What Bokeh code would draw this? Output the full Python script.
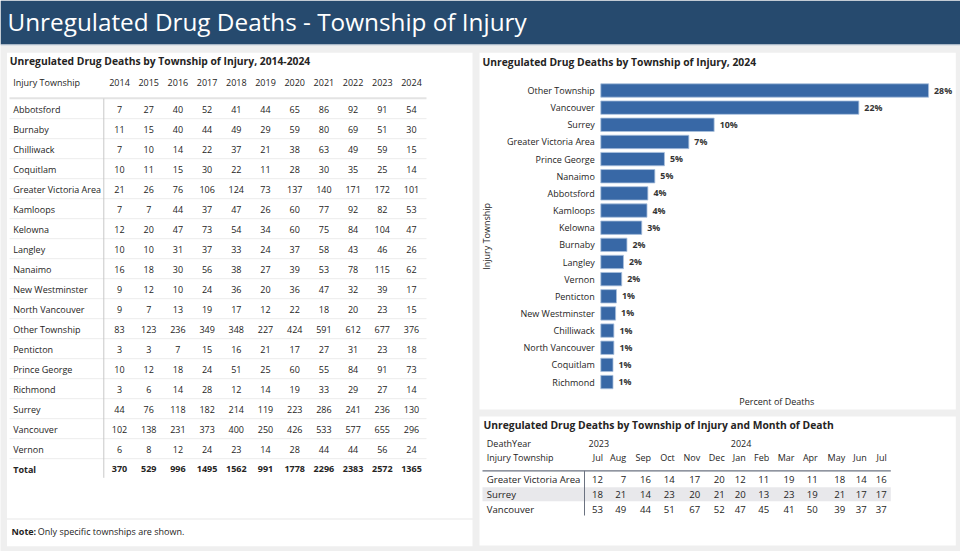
from bokeh.plotting import figure
from bokeh.models import Range1d
from bokeh.core.properties import value
from bokeh.embed import file_html
from bokeh.resources import INLINE

# ---------------- data ----------------
years = ["2014", "2015", "2016", "2017", "2018", "2019", "2020", "2021", "2022", "2023", "2024"]
townships = ["Abbotsford", "Burnaby", "Chilliwack", "Coquitlam", "Greater Victoria Area",
             "Kamloops", "Kelowna", "Langley", "Nanaimo", "New Westminster",
             "North Vancouver", "Other Township", "Penticton", "Prince George",
             "Richmond", "Surrey", "Vancouver", "Vernon"]
abbotsford = [7, 27, 40, 52, 41, 44, 65, 86, 92, 91, 54]
burnaby = [11, 15, 40, 44, 49, 29, 59, 80, 69, 51, 30]
chilliwack = [7, 10, 14, 22, 37, 21, 38, 63, 49, 59, 15]
coquitlam = [10, 11, 15, 30, 22, 11, 28, 30, 35, 25, 14]
greater_victoria = [21, 26, 76, 106, 124, 73, 137, 140, 171, 172, 101]
kamloops = [7, 7, 44, 37, 47, 26, 60, 77, 92, 82, 53]
kelowna = [12, 20, 47, 73, 54, 34, 60, 75, 84, 104, 47]
langley = [10, 10, 31, 37, 33, 24, 37, 58, 43, 46, 26]
nanaimo = [16, 18, 30, 56, 38, 27, 39, 53, 78, 115, 62]
new_westminster = [9, 12, 10, 24, 36, 20, 36, 47, 32, 39, 17]
north_vancouver = [9, 7, 13, 19, 17, 12, 22, 18, 20, 23, 15]
other_township = [83, 123, 236, 349, 348, 227, 424, 591, 612, 677, 376]
penticton = [3, 3, 7, 15, 16, 21, 17, 27, 31, 23, 18]
prince_george = [10, 12, 18, 24, 51, 25, 60, 55, 84, 91, 73]
richmond = [3, 6, 14, 28, 12, 14, 19, 33, 29, 27, 14]
surrey = [44, 76, 118, 182, 214, 119, 223, 286, 241, 236, 130]
vancouver = [102, 138, 231, 373, 400, 250, 426, 533, 577, 655, 296]
vernon = [6, 8, 12, 24, 23, 14, 28, 44, 44, 56, 24]
totals = [370, 529, 996, 1495, 1562, 991, 1778, 2296, 2383, 2572, 1365]
year_rows = [abbotsford, burnaby, chilliwack, coquitlam, greater_victoria, kamloops,
             kelowna, langley, nanaimo, new_westminster, north_vancouver, other_township,
             penticton, prince_george, richmond, surrey, vancouver, vernon]

month_years = ["2023", "2024"]
months = ["Jul", "Aug", "Sep", "Oct", "Nov", "Dec", "Jan", "Feb", "Mar", "Apr", "May", "Jun", "Jul"]
month_townships = ["Greater Victoria Area", "Surrey", "Vancouver"]
gva_monthly = [12, 7, 16, 14, 17, 20, 12, 11, 19, 11, 18, 14, 16]
surrey_monthly = [18, 21, 14, 23, 20, 21, 20, 13, 23, 19, 21, 17, 17]
vancouver_monthly = [53, 49, 44, 51, 67, 52, 47, 45, 41, 50, 39, 37, 37]
monthly_rows = [gva_monthly, surrey_monthly, vancouver_monthly]

# ---------------- styles / layout ----------------
FONT = value("Open Sans")
TXT = "#252423"
HEADER_BG = "#264a6e"
PAGE_BG = "#efefef"
BAR = "#3868a6"
W, H = 960, 551

p = figure(width=W, height=H, x_range=Range1d(0, W), y_range=Range1d(H, 0),
           x_axis_type=None, y_axis_type=None, toolbar_location=None,
           output_backend="svg", min_border=0, outline_line_color=None,
           background_fill_color=PAGE_BG, border_fill_color=PAGE_BG)
p.grid.visible = False


def txt(xs, ys, texts, size="9px", align="left", bold=False, color=TXT, **kw):
    p.text(x=xs, y=ys, text=texts, text_font=FONT, text_font_size=value(size),
           text_align=align, text_baseline="middle", text_color=color,
           text_font_style="bold" if bold else "normal", **kw)


# header band and panels
p.quad(left=[0], right=[W], top=[0], bottom=[44], fill_color=HEADER_BG, line_color=None)
p.segment(x0=[0], x1=[W], y0=[44.5], y1=[44.5], line_color="#c9d3de", line_width=1)
p.quad(left=[6.5, 6.5, 479, 479], right=[472, 472, 955.3, 955.3],
       top=[52.3, 519.3, 52.3, 416], bottom=[517.7, 545.7, 409, 545],
       fill_color="white", line_color=None)
txt([7], [20.5], ["Unregulated Drug Deaths - Township of Injury"], size="24.3px", color="white")

# ---------------- left table ----------------
txt([9.3], [60.7], ["Unregulated Drug Deaths by Township of Injury, 2014-2024"], size="10.3px", bold=True)
col_x0, col_dx = 119.0, 29.2
row_y0, row_dy = 108.7, 20.0
col_x = [col_x0 + j * col_dx for j in range(len(years))]
row_y = [row_y0 + i * row_dy for i in range(len(townships) + 1)]

txt([12.7], [82], ["Injury Township"])
txt(col_x, [82] * len(years), years, align="center")

p.segment(x0=[9] * len(townships), x1=[426] * len(townships),
          y0=[y + 9.5 for y in row_y[:-1]], y1=[y + 9.5 for y in row_y[:-1]],
          line_color="#ececec", line_width=1)
p.segment(x0=[9], x1=[426], y0=[97.7], y1=[97.7], line_color="#e3e3e3", line_width=2)
p.segment(x0=[103.3], x1=[103.3], y0=[98], y1=[477.3], line_color="#c8c8c8", line_width=1)

txt([12.7] * len(townships), row_y[:-1], townships)
cx, cy, ct = [], [], []
for i, row in enumerate(year_rows):
    for j, v in enumerate(row):
        cx.append(col_x[j]); cy.append(row_y[i]); ct.append(str(v))
txt(cx, cy, ct, align="center")
txt([12.7], [row_y[-1]], ["Total"], bold=True)
txt(col_x, [row_y[-1]] * len(totals), [str(t) for t in totals], align="center", bold=True)

# note
txt([11], [530.5], ["Note:"], bold=True)
txt([37.3], [530.5], ["Only specific townships are shown."])

# ---------------- bar chart (share of 2024 deaths) ----------------
shares = [(name, row[-1] / totals[-1] * 100) for name, row in zip(townships, year_rows)]
shares = sorted(shares, key=lambda s: -s[1])
bar_names = [s[0] for s in shares]
bar_pct = [s[1] for s in shares]
bar_idx = list(range(len(shares)))

zero_px, px_per_pct = 600.3, 11.9       # where 0% sits, pixels per percent
first_px, px_per_bar = 90.0, 17.15      # centre of first bar, pitch
p.extra_x_ranges = {"pct": Range1d(-zero_px / px_per_pct, (W - zero_px) / px_per_pct)}
p.extra_y_ranges = {"bar": Range1d((H - first_px) / px_per_bar, -first_px / px_per_bar)}

txt([482], [61], ["Unregulated Drug Deaths by Township of Injury, 2024"], size="10.3px", bold=True)
p.hbar(y=bar_idx, left=0, right=bar_pct, height=0.78, fill_color=BAR, line_color="#a9c0dd",
       line_width=0.8, x_range_name="pct", y_range_name="bar")
p.text(x=[0] * len(bar_idx), y=bar_idx, text=bar_names, x_offset=-6, text_font=FONT,
       text_font_size=value("9px"), text_align="right", text_baseline="middle",
       text_color=TXT, x_range_name="pct", y_range_name="bar")
p.text(x=bar_pct, y=bar_idx, text=[f"{v:.0f}%" for v in bar_pct], x_offset=5.5, text_font=FONT,
       text_font_size=value("8.8px"), text_align="left", text_baseline="middle",
       text_font_style="bold", text_color="#333333", x_range_name="pct", y_range_name="bar")
txt([486.3], [235.8], ["Injury Township"], align="center", angle=1.5708)
txt([776.3], [400.7], ["Percent of Deaths"], align="center")

# ---------------- month matrix ----------------
txt([483], [424.3], ["Unregulated Drug Deaths by Township of Injury and Month of Death"], size="10.3px", bold=True)
month_right = [602.5, 625.7, 650.5, 674.2, 699.7, 724.2, 745.2, 768.7, 794.0, 817.3, 844.7, 866.3, 886.3]
mrow_y = [479.3, 494.0, 508.5]
p.quad(left=[482], right=[890.3], top=[486.8], bottom=[500.8], fill_color="#e8e8eb", line_color=None)
txt([486.3, 486.3], [442.7, 457], ["DeathYear", "Injury Township"])
txt([588, 730.3], [442.7, 442.7], month_years)
txt(month_right, [457] * len(months), months, align="right")
p.segment(x0=[482], x1=[890.3], y0=[470.3], y1=[470.3], line_color="#6b7280", line_width=1.2)
p.segment(x0=[584], x1=[584], y0=[470.3], y1=[515], line_color="#6b7280", line_width=1)
txt([486.3] * 3, mrow_y, month_townships, size="9.6px")
mx, my, mt = [], [], []
for i, row in enumerate(monthly_rows):
    for j, v in enumerate(row):
        mx.append(month_right[j]); my.append(mrow_y[i]); mt.append(str(v))
txt(mx, my, mt, size="9.6px", align="right")

open("out.html", "w").write(file_html(p, INLINE))
